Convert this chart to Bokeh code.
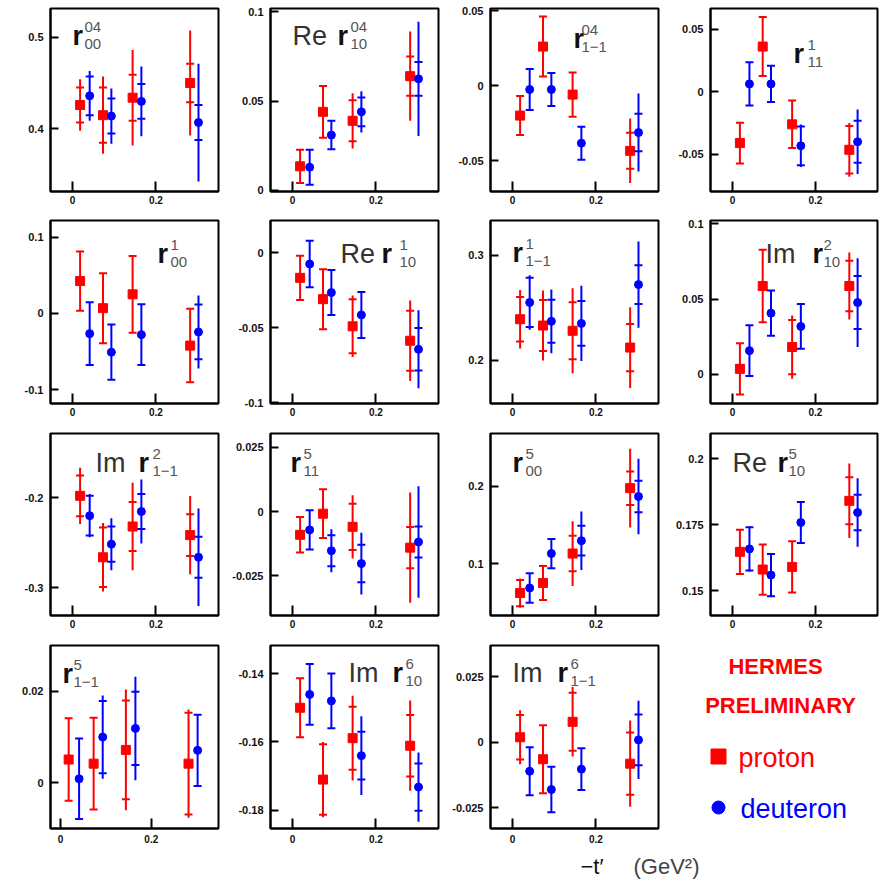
from bokeh.plotting import figure
from bokeh.models import ColumnDataSource, FixedTicker, Label, Range1d
from bokeh.layouts import column, row
from bokeh.embed import file_html
from bokeh.resources import INLINE

# ---------------- data ----------------
# x positions (-t' in GeV^2) of the four bins
X_PROTON = [0.018, 0.073, 0.144, 0.282]
X_DEUTERON = [0.041, 0.093, 0.165, 0.302]
X_TICKS = [0, 0.2]

# each entry: (value, statistical error, total error)
r04_00_proton = [(0.426, 0.019, 0.028), (0.415, 0.030, 0.042), (0.434, 0.025, 0.052), (0.450, 0.021, 0.057)]
r04_00_deuteron = [(0.436, 0.021, 0.027), (0.414, 0.019, 0.030), (0.430, 0.019, 0.038), (0.407, 0.019, 0.064)]

re_r04_10_proton = [(0.0135, 0.0093, 0.0093), (0.044, 0.0145, 0.0145), (0.039, 0.0115, 0.0155), (0.064, 0.011, 0.025)]
re_r04_10_deuteron = [(0.013, 0.0098, 0.0098), (0.031, 0.008, 0.008), (0.044, 0.008, 0.0115), (0.0625, 0.0095, 0.032)]

r04_1m1_proton = [(-0.020, 0.013, 0.013), (0.026, 0.020, 0.020), (-0.006, 0.0148, 0.0148), (-0.0435, 0.012, 0.0215)]
r04_1m1_deuteron = [(-0.0026, 0.0136, 0.0136), (-0.0026, 0.011, 0.011), (-0.0384, 0.011, 0.011), (-0.0313, 0.0125, 0.026)]

r1_11_proton = [(-0.041, 0.0163, 0.0163), (0.0363, 0.0236, 0.0236), (-0.026, 0.019, 0.019), (-0.0464, 0.019, 0.0215)]
r1_11_deuteron = [(0.0064, 0.0174, 0.0174), (0.0064, 0.0146, 0.0146), (-0.0432, 0.0155, 0.017), (-0.040, 0.0168, 0.0258)]

r1_00_proton = [(0.0426, 0.039, 0.039), (0.007, 0.046, 0.046), (0.0252, 0.0505, 0.0505), (-0.0422, 0.0483, 0.0483)]
r1_00_deuteron = [(-0.0265, 0.0413, 0.0413), (-0.0509, 0.0363, 0.0363), (-0.0278, 0.040, 0.040), (-0.0243, 0.036, 0.048)]

re_r1_10_proton = [(-0.0168, 0.0147, 0.0147), (-0.031, 0.020, 0.020), (-0.0491, 0.018, 0.0205), (-0.0587, 0.020, 0.0268)]
re_r1_10_deuteron = [(-0.0076, 0.0155, 0.0155), (-0.0266, 0.015, 0.015), (-0.0415, 0.0153, 0.0153), (-0.0644, 0.0142, 0.026)]

r1_1m1_proton = [(0.239, 0.0213, 0.0278), (0.233, 0.0243, 0.0333), (0.228, 0.0272, 0.0405), (0.212, 0.0225, 0.0385)]
r1_1m1_deuteron = [(0.255, 0.0235, 0.026), (0.237, 0.0205, 0.0303), (0.235, 0.0213, 0.0358), (0.272, 0.0185, 0.041)]

im_r2_10_proton = [(0.0037, 0.017, 0.017), (0.0587, 0.024, 0.024), (0.0182, 0.018, 0.021), (0.0587, 0.0167, 0.0222)]
im_r2_10_deuteron = [(0.0158, 0.0168, 0.0168), (0.0407, 0.015, 0.015), (0.0319, 0.0148, 0.0148), (0.0477, 0.0176, 0.0295)]

im_r2_1m1_proton = [(-0.198, 0.0226, 0.0312), (-0.266, 0.033, 0.038), (-0.232, 0.0272, 0.0484), (-0.2415, 0.023, 0.0432)]
im_r2_1m1_deuteron = [(-0.220, 0.022, 0.024), (-0.2515, 0.0195, 0.0288), (-0.2154, 0.0193, 0.0355), (-0.266, 0.0228, 0.054)]

r5_11_proton = [(-0.009, 0.0069, 0.0069), (-0.0008, 0.0095, 0.0095), (-0.0059, 0.009, 0.0123), (-0.014, 0.008, 0.0214)]
r5_11_deuteron = [(-0.0071, 0.0076, 0.0076), (-0.0152, 0.006, 0.0084), (-0.0202, 0.0073, 0.012), (-0.0118, 0.006, 0.0217)]

r5_00_proton = [(0.0617, 0.017, 0.019), (0.0748, 0.022, 0.022), (0.113, 0.023, 0.042), (0.1978, 0.0217, 0.051)]
r5_00_deuteron = [(0.0683, 0.019, 0.019), (0.113, 0.019, 0.019), (0.1296, 0.0193, 0.038), (0.187, 0.0205, 0.049)]

re_r5_10_proton = [(0.1648, 0.0084, 0.0084), (0.1581, 0.0095, 0.0095), (0.1591, 0.0097, 0.0097), (0.1841, 0.0089, 0.0141)]
re_r5_10_deuteron = [(0.1659, 0.0082, 0.0085), (0.156, 0.008, 0.008), (0.1759, 0.0078, 0.0078), (0.1797, 0.0067, 0.013)]

r5_1m1_proton = [(0.0051, 0.009, 0.009), (0.0042, 0.010, 0.010), (0.0072, 0.0108, 0.0132), (0.0042, 0.0111, 0.0118)]
r5_1m1_deuteron = [(0.0009, 0.0088, 0.0088), (0.010, 0.0079, 0.0091), (0.0119, 0.008, 0.0113), (0.0071, 0.0078, 0.0078)]

im_r6_10_proton = [(-0.150, 0.0086, 0.0086), (-0.171, 0.0103, 0.011), (-0.1589, 0.0092, 0.0124), (-0.1611, 0.009, 0.0132)]
im_r6_10_deuteron = [(-0.1461, 0.0089, 0.0089), (-0.148, 0.008, 0.008), (-0.164, 0.007, 0.0115), (-0.1732, 0.0069, 0.0101)]

im_r6_1m1_proton = [(0.0019, 0.0085, 0.0103), (-0.0065, 0.013, 0.013), (0.0078, 0.0111, 0.0133), (-0.0082, 0.0119, 0.0165)]
im_r6_1m1_deuteron = [(-0.0111, 0.0092, 0.0092), (-0.0181, 0.0087, 0.0087), (-0.0103, 0.008, 0.008), (0.0009, 0.0097, 0.015)]

# panel definitions: label pieces, data, axis ranges and y ticks
PANELS = [
    ("", "04", "00", r04_00_proton, r04_00_deuteron, (0.332, 0.531), [0.4, 0.5]),
    ("Re", "04", "10", re_r04_10_proton, re_r04_10_deuteron, (-0.0006, 0.1019), [0, 0.05, 0.1]),
    ("", "04", "1\u22121", r04_1m1_proton, r04_1m1_deuteron, (-0.0706, 0.0514), [-0.05, 0, 0.05]),
    ("", "1", "11", r1_11_proton, r1_11_deuteron, (-0.0798, 0.0668), [-0.05, 0, 0.05]),
    ("", "1", "00", r1_00_proton, r1_00_deuteron, (-0.1183, 0.1222), [-0.1, 0, 0.1]),
    ("Re", "1", "10", re_r1_10_proton, re_r1_10_deuteron, (-0.1005, 0.0214), [-0.1, -0.05, 0]),
    ("", "1", "1\u22121", r1_1m1_proton, r1_1m1_deuteron, (0.1587, 0.3331), [0.2, 0.3]),
    ("Im", "2", "10", im_r2_10_proton, im_r2_10_deuteron, (-0.0193, 0.1022), [0, 0.05, 0.1]),
    ("Im", "2", "1\u22121", im_r2_1m1_proton, im_r2_1m1_deuteron, (-0.3305, -0.129), [-0.3, -0.2]),
    ("", "5", "11", r5_11_proton, r5_11_deuteron, (-0.0404, 0.0304), [-0.025, 0, 0.025]),
    ("", "5", "00", r5_00_proton, r5_00_deuteron, (0.0326, 0.2687), [0.1, 0.2]),
    ("Re", "5", "10", re_r5_10_proton, re_r5_10_deuteron, (0.1407, 0.2096), [0.15, 0.175, 0.2]),
    ("", "5", "1\u22121", r5_1m1_proton, r5_1m1_deuteron, (-0.00996, 0.03), [0, 0.02]),
    ("Im", "6", "10", im_r6_10_proton, im_r6_10_deuteron, (-0.1853, -0.1318), [-0.18, -0.16, -0.14]),
    ("Im", "6", "1\u22121", im_r6_1m1_proton, im_r6_1m1_deuteron, (-0.033, 0.037), [-0.025, 0, 0.025]),
]
X_RANGES = [(-0.053, 0.35)] * 12 + [(-0.022, 0.348)] + [(-0.053, 0.35)] * 2

# ---------------- layout / style ----------------
# label placement in frame pixels: (prefix left, r left, sup/sub left, baseline)
LABEL_POS = [
    (22, 22, 34, 37), (22, 67, 80, 37), (83, 83, 91, 40), (83, 83, 97, 55),
    (107, 107, 120, 43), (70, 111, 129, 43), (22, 22, 35, 42), (55, 102, 113, 43),
    (45, 88, 102, 39), (20, 20, 33, 39), (22, 22, 35, 39), (22, 67, 78, 39),
    (12, 12, 23, 38), (78, 122, 135, 37), (22, 67, 80, 37),
]
COL_W = [220, 220, 220, 220]
B_LEFT = [50, 50, 50, 50]
B_RIGHT = [2, 2, 2, 3]
ROW_H = [212, 212, 212, 216]
B_TOP = [8, 8, 9, 9]
B_BOT = [21, 21, 21, 24]
X_STANDOFF = [4, 4, 4, 6]
RED = "#ff0000"
BLUE = "#0000ff"
FONT = "Liberation Sans"
MID = 0.35  # em offset from baseline to the middle of the text box


def fmt(v):
    s = f"{v:g}"
    return "0" if s in ("-0", "0") else s


def add_series(p, xs, pts, color, marker, size):
    src = ColumnDataSource(dict(
        x=xs,
        v=[a for a, s, t in pts],
        lo=[a - t for a, s, t in pts],
        hi=[a + t for a, s, t in pts],
        slo=[a - s for a, s, t in pts],
        shi=[a + s for a, s, t in pts],
    ))
    p.segment(x0="x", y0="lo", x1="x", y1="hi", source=src, line_color=color, line_width=2)
    p.scatter(x="x", y="slo", source=src, marker="dash", size=8, line_color=color, line_width=2)
    p.scatter(x="x", y="shi", source=src, marker="dash", size=8, line_color=color, line_width=2)
    p.scatter(x="x", y="v", source=src, marker=marker, size=size, fill_color=color, line_color=color)


def make_panel(k):
    r, c = divmod(k, 4)
    prefix, sup, sub, prot, deut, yr, yt = PANELS[k]
    xr = X_RANGES[k]
    p = figure(width=COL_W[c], height=ROW_H[r], x_range=Range1d(*xr), y_range=Range1d(*yr),
               output_backend="svg", toolbar_location=None, tools="",
               min_border_left=B_LEFT[c], min_border_right=B_RIGHT[c],
               min_border_top=B_TOP[r], min_border_bottom=B_BOT[r])
    p.grid.visible = False
    p.outline_line_color = "black"
    p.outline_line_width = 2
    p.outline_line_alpha = 1
    p.background_fill_color = "white"
    p.border_fill_color = "white"
    for ax, ticks, tin, fs in ((p.xaxis[0], X_TICKS, 10, "10px"), (p.yaxis[0], yt, 8, "11px")):
        ax.ticker = FixedTicker(ticks=ticks)
        ax.major_label_overrides = {t: fmt(t) for t in ticks}
        ax.minor_tick_line_color = None
        ax.major_tick_in = tin
        ax.major_tick_out = 0
        ax.major_tick_line_width = 2
        ax.major_tick_line_color = "black"
        ax.axis_line_width = 2
        ax.axis_line_color = "black"
        ax.major_label_text_font = FONT
        ax.major_label_text_font_size = fs
        ax.major_label_text_font_style = "bold"
        ax.major_label_text_color = "#111111"
    p.xaxis.major_label_standoff = X_STANDOFF[r]
    p.yaxis.major_label_standoff = 7

    add_series(p, X_PROTON, prot, RED, "square", 9)
    add_series(p, X_DEUTERON, deut, BLUE, "circle", 8)

    # panel label placed from frame pixel offsets
    fw = COL_W[c] - B_LEFT[c] - B_RIGHT[c]
    fh = ROW_H[r] - B_TOP[r] - B_BOT[r]

    def dx(px):
        return xr[0] + px / fw * (xr[1] - xr[0])

    def dy(py):
        return yr[1] - py / fh * (yr[1] - yr[0])

    def put(px, base, text, size, color, style="normal"):
        p.add_layout(Label(x=dx(px), y=dy(base - MID * size), text=text, text_font=FONT,
                           text_font_size=f"{size}px", text_font_style=style, text_color=color,
                           text_baseline="middle", text_align="left"))

    pl, rl, sl, base = LABEL_POS[k]
    if prefix:
        put(pl, base, prefix, 27, "#333333")
    put(rl, base, "r", 27, "#111111", "bold")
    put(sl, base - 13, sup, 15, "#555555")
    put(sl, base + 4, sub, 15, "#555555")
    return p


def make_legend():
    w, h = COL_W[3], ROW_H[3]
    fh = h - B_TOP[3] - B_BOT[3]
    p = figure(width=w, height=h, x_range=Range1d(0, w), y_range=Range1d(0, fh),
               output_backend="svg", toolbar_location=None, tools="",
               x_axis_location=None, y_axis_location=None,
               min_border_left=0, min_border_right=0,
               min_border_top=B_TOP[3], min_border_bottom=B_BOT[3])
    p.grid.visible = False
    p.outline_line_color = None
    # positions measured from the frame top
    p.add_layout(Label(x=115, y=fh - 21, text="HERMES", text_font=FONT, text_font_size="22px",
                       text_font_style="bold", text_color=RED, text_align="center", text_baseline="middle"))
    p.add_layout(Label(x=120, y=fh - 60, text="PRELIMINARY", text_font=FONT, text_font_size="22px",
                       text_font_style="bold", text_color=RED, text_align="center", text_baseline="middle"))
    p.scatter(x=[58], y=[fh - 111], marker="square", size=15, fill_color=RED, line_color=RED)
    p.scatter(x=[58], y=[fh - 162], marker="circle", size=13, fill_color=BLUE, line_color=BLUE)
    p.add_layout(Label(x=78, y=fh - 112, text="proton", text_font=FONT, text_font_size="27px",
                       text_color=RED, text_align="left", text_baseline="middle"))
    p.add_layout(Label(x=80, y=fh - 163, text="deuteron", text_font=FONT, text_font_size="27px",
                       text_color=BLUE, text_align="left", text_baseline="middle"))
    return p


panels = [make_panel(k) for k in range(15)] + [make_legend()]
rows = [row(*panels[i * 4:(i + 1) * 4]) for i in range(4)]

tot_w = sum(COL_W)
LAB_H = 31
lab = figure(width=tot_w, height=LAB_H, x_range=Range1d(0, tot_w), y_range=Range1d(0, LAB_H),
             output_backend="svg", toolbar_location=None, tools="",
             x_axis_location=None, y_axis_location=None,
             min_border_left=0, min_border_right=0, min_border_top=0, min_border_bottom=0)
lab.grid.visible = False
lab.outline_line_color = None
lab.add_layout(Label(x=580, y=LAB_H - 14, text="\u2212t\u2032", text_font=FONT, text_font_size="22px",
                     text_color="#111111", text_align="left", text_baseline="middle"))
lab.add_layout(Label(x=633, y=LAB_H - 14, text="(GeV\u00b2)", text_font=FONT, text_font_size="22px",
                     text_color="#444444", text_align="left", text_baseline="middle"))

p = column(*rows, lab)
open("out.html", "w").write(file_html(p, INLINE))
